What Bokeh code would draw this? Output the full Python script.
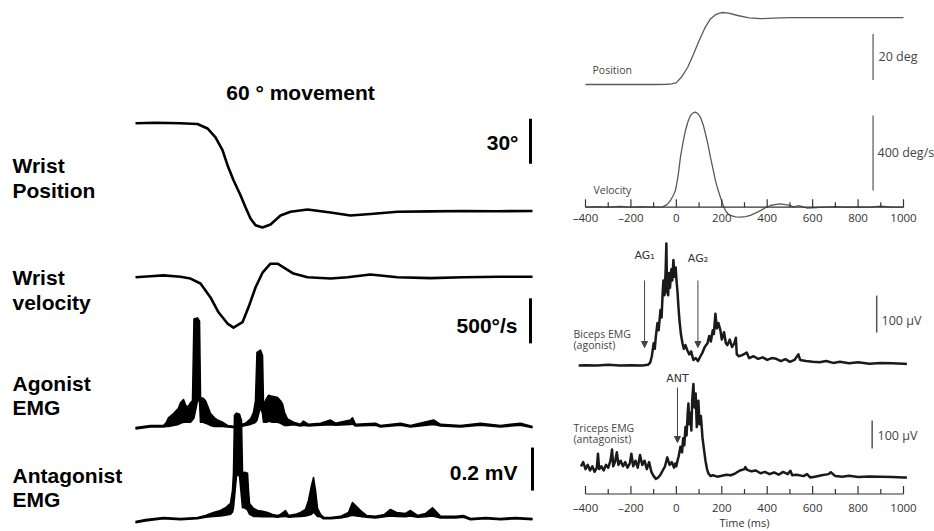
from bokeh.plotting import figure
from bokeh.models import Range1d, Arrow, NormalHead
from bokeh.core.properties import value
from bokeh.embed import file_html
from bokeh.resources import INLINE

# ---------------- data: left panel (60 deg movement) ----------------
# time in ms (arbitrary origin at start of trace)
left_position = [(0, 0), (40, 0.3), (90, 0), (124, -0.5), (144, -3.5), (160, -9.5), (174, -18),
                 (184, -28), (196, -38), (210, -48), (220, -56), (230, -63.5), (240, -68),
                 (254, -69.5), (270, -67.5), (290, -61.5), (310, -59), (344, -57.5), (390, -59.5),
                 (430, -61.5), (470, -60.5), (524, -59), (590, -58.8), (656, -58.5), (720, -58.7),
                 (794, -58.5)]  # degrees
left_velocity = [(0, 0), (30, 10), (56, 20), (90, 5), (110, -15), (130, -70), (150, -225),
                 (166, -390), (184, -515), (196, -560), (214, -500), (226, -335), (240, -115),
                 (254, 50), (270, 150), (284, 150), (296, 110), (316, 40), (344, 0), (390, -15),
                 (424, 0), (470, 30), (524, 0), (590, -10), (656, 0), (730, 5), (794, 5)]  # deg/s
# (t, upper envelope, lower envelope) in mV
left_agonist = [(0, -0.005, -0.011), (30, 0.005, -0.002), (56, 0.005, -0.002), (62, 0.02, 0.0),
                (66, 0.04, 0.0), (76, 0.06, 0.005), (86, 0.085, 0.01), (90, 0.11, 0.015),
                (96, 0.125, 0.02), (100, 0.10, 0.02), (104, 0.09, 0.02), (110, 0.11, 0.02),
                (114, 0.12, 0.03), (117, 0.50, 0.04), (124, 0.505, 0.12), (128, 0.49, 0.12),
                (130, 0.135, 0.02), (136, 0.13, 0.02), (140, 0.12, 0.015), (146, 0.085, 0.01),
                (150, 0.06, 0.005), (158, 0.04, 0.0), (164, 0.03, 0.0), (174, 0.02, 0.0),
                (184, 0.005, -0.002), (200, 0.0, -0.006), (220, 0.015, 0.005), (230, 0.035, 0.01),
                (236, 0.065, 0.015), (240, 0.12, 0.02), (243, 0.345, 0.03), (250, 0.355, 0.09),
                (254, 0.33, 0.06), (256, 0.10, 0.02), (262, 0.13, 0.02), (266, 0.145, 0.025),
                (274, 0.14, 0.02), (284, 0.135, 0.02), (290, 0.12, 0.015), (294, 0.105, 0.01),
                (298, 0.065, 0.005), (304, 0.035, 0.005), (316, 0.02, 0.008), (330, 0.01, 0.002),
                (336, 0.025, 0.006), (346, 0.01, 0.002), (370, 0.015, 0.006), (390, 0.03, 0.008),
                (400, 0.015, 0.006), (430, 0.03, 0.01), (434, 0.04, 0.012), (440, 0.01, 0.002),
                (480, 0.015, 0.006), (490, 0.005, -0.002), (530, 0.015, 0.006), (550, 0.005, -0.002),
                (596, 0.03, 0.01), (610, 0.01, 0.002), (650, 0.005, -0.002), (690, 0.015, 0.006),
                (730, 0.005, -0.002), (770, 0.015, 0.006), (794, 0.0, -0.006)]
left_antagonist = [(0, -0.014, -0.02), (20, -0.005, -0.011), (56, 0.005, -0.001), (90, 0.0, -0.006),
                   (124, 0.005, -0.001), (140, 0.014, 0.006), (156, 0.028, 0.01), (170, 0.037, 0.012),
                   (180, 0.05, 0.015), (190, 0.07, 0.02), (194, 0.13, 0.03), (196, 0.21, 0.05),
                   (198, 0.48, 0.1), (202, 0.49, 0.2), (208, 0.485, 0.2), (212, 0.455, 0.1),
                   (214, 0.21, 0.05), (218, 0.215, 0.05), (224, 0.21, 0.04), (226, 0.13, 0.03),
                   (228, 0.07, 0.02), (236, 0.047, 0.01), (244, 0.037, 0.01), (254, 0.033, 0.008),
                   (264, 0.028, 0.008), (274, 0.019, 0.008), (284, 0.014, 0.006), (290, 0.019, 0.008),
                   (300, 0.037, 0.01), (306, 0.014, 0.006), (320, 0.019, 0.008), (330, 0.028, 0.01),
                   (340, 0.042, 0.012), (346, 0.084, 0.015), (352, 0.153, 0.02), (356, 0.19, 0.03),
                   (360, 0.13, 0.02), (364, 0.047, 0.01), (370, 0.019, 0.008), (376, 0.005, -0.001),
                   (390, 0.005, -0.001), (410, 0.01, 0.003), (426, 0.028, 0.01), (434, 0.074, 0.015),
                   (442, 0.056, 0.012), (450, 0.037, 0.01), (462, 0.014, 0.006), (480, 0.01, 0.003),
                   (498, 0.019, 0.008), (510, 0.042, 0.012), (522, 0.028, 0.01), (540, 0.023, 0.008),
                   (550, 0.037, 0.012), (564, 0.014, 0.006), (580, 0.023, 0.008), (594, 0.05, 0.012),
                   (610, 0.01, 0.003), (640, 0.01, 0.003), (656, 0.014, 0.006), (670, 0.0, -0.006),
                   (700, 0.005, -0.001), (730, 0.0, -0.006), (760, 0.005, -0.001), (794, 0.0, -0.006)]

# ---------------- data: right panel (time in ms re movement onset) ----------------
right_position = [(-400, 0), (-300, 0), (-200, 0), (-100, 0), (-40, 0.1), (-20, 0.3), (0, 0.8),
                  (25, 3.5), (50, 7.5), (75, 13), (100, 19), (125, 24.5), (150, 28.5), (175, 30.5),
                  (200, 31.3), (230, 31.0), (270, 30.0), (320, 29.0), (370, 28.6), (430, 28.9),
                  (500, 29.1), (700, 29.1), (1000, 29.1)]  # deg
right_velocity = [(-400, 0), (-350, 3), (-300, 0), (-250, 4), (-200, 0), (-150, 3), (-100, 0),
                  (-60, 2), (-40, 15), (-26, 36), (-15, 60), (-4, 89), (8, 170), (18, 267), (30, 350),
                  (40, 409), (52, 460), (62, 489), (74, 503), (84, 507), (95, 498), (106, 480),
                  (118, 440), (128, 393), (140, 330), (150, 267), (162, 200), (172, 142), (184, 90),
                  (194, 53), (205, 15), (216, -18), (227, -35), (238, -44), (260, -52), (282, -53),
                  (305, -50), (326, -44), (350, -30), (370, -18), (392, -3), (414, 9), (440, 15),
                  (458, 18), (480, 14), (500, 10), (515, 2), (540, 8), (560, 0), (577, -5), (600, -3),
                  (650, 0), (700, 3), (750, 0), (800, 2), (850, 0), (900, 5), (950, 0), (1000, 0)]  # deg/s
biceps_emg = [(-430, 0), (-400, 1), (-350, 0), (-300, 2), (-250, 0), (-200, 1), (-150, 0), (-125, 2),
              (-115, 8), (-108, 25), (-100, 60), (-95, 45), (-90, 80), (-83, 115), (-78, 95),
              (-70, 150), (-65, 130), (-60, 200), (-57, 230), (-52, 190), (-47, 260), (-44, 330),
              (-41, 200), (-36, 190), (-32, 250), (-28, 210), (-22, 260), (-18, 230), (-13, 285),
              (-8, 240), (-3, 265), (0, 235), (5, 200), (9, 160), (14, 120), (20, 85), (27, 60),
              (33, 45), (40, 55), (49, 40), (57, 30), (65, 38), (75, 15), (85, 20), (95, 12),
              (106, 25), (115, 35), (125, 50), (137, 60), (145, 80), (152, 65), (160, 95), (165, 85),
              (172, 140), (178, 100), (185, 115), (194, 95), (200, 70), (210, 90), (218, 60),
              (225, 55), (235, 70), (245, 50), (255, 60), (262, 75), (266, 30), (275, 25), (290, 28),
              (310, 35), (320, 20), (340, 25), (360, 18), (380, 22), (400, 15), (420, 20), (440, 18),
              (460, 12), (480, 17), (500, 10), (520, 15), (537, 30), (545, 15), (570, 12), (600, 10),
              (630, 9), (660, 12), (690, 7), (720, 10), (760, 6), (800, 9), (850, 5), (900, 7),
              (950, 6), (1000, 5), (1015, 4)]  # uV
triceps_emg = [(-420, 40), (-410, 55), (-400, 30), (-390, 45), (-380, 25), (-370, 40), (-360, 20),
               (-350, 35), (-345, 85), (-340, 30), (-330, 40), (-320, 25), (-310, 45), (-300, 35),
               (-290, 60), (-283, 100), (-278, 40), (-270, 55), (-262, 90), (-255, 45), (-245, 60),
               (-235, 40), (-225, 55), (-215, 35), (-205, 50), (-198, 85), (-190, 40), (-180, 60),
               (-170, 35), (-160, 80), (-150, 45), (-140, 60), (-130, 30), (-120, 55), (-110, 20),
               (-100, 5), (-90, -5), (-80, 0), (-70, 10), (-60, 25), (-50, 40), (-40, 72), (-30, 45),
               (-20, 55), (-10, 35), (-5, 50), (0, 40), (5, 60), (10, 75), (18, 110), (25, 90),
               (30, 140), (35, 115), (40, 180), (45, 150), (50, 230), (53, 264), (57, 190), (62, 230),
               (66, 168), (70, 280), (75, 334), (80, 250), (85, 300), (90, 180), (93, 210), (97, 274),
               (102, 190), (108, 220), (115, 143), (120, 110), (128, 61), (135, 30), (141, 15),
               (150, 5), (160, 8), (180, 3), (200, 6), (220, 10), (240, 8), (260, 15), (280, 25),
               (300, 30), (304, 37), (310, 28), (330, 22), (350, 25), (370, 15), (390, 20), (410, 12),
               (430, 18), (450, 10), (470, 20), (490, 12), (502, 24), (510, 8), (530, 10), (560, 5),
               (575, 12), (590, 0), (610, 3), (640, 8), (670, 12), (680, 19), (700, 5), (730, 3),
               (760, 6), (800, 2), (850, 4), (900, 3), (950, 2), (1000, 0), (1015, 0)]  # uV

time_ticks = [-400, -300, -200, -100, 0, 100, 200, 300, 400, 500, 600, 700, 800, 900, 1000]
time_labels = ["\u2013400", "\u2013200", "0", "200", "400", "600", "800", "1000"]
label_ticks = [-400, -200, 0, 200, 400, 600, 800, 1000]
marker_times = {"AG\u2081": -140, "AG\u2082": 95, "ANT": 5}

# ---------------- layout helpers (positions in pixels of the picture) ----------------
W, H = 934, 531
X0, X1, Y0, Y1 = 0, W, 0, H


def xr(v0, px0, v1, px1):
    k = (v1 - v0) / (px1 - px0)
    return Range1d(v0 + (X0 - px0) * k, v0 + (X1 - px0) * k)


def yr(v0, py0, v1, py1):
    k = (v1 - v0) / (py1 - py0)
    return Range1d(v0 + (Y1 - py0) * k, v0 + (Y0 - py0) * k)


def col(rows, i):
    return [r[i] for r in rows]


p = figure(width=W, height=H, x_range=Range1d(X0, X1), y_range=Range1d(Y1, Y0),
           output_backend="svg", toolbar_location=None, x_axis_type=None, y_axis_type=None,
           min_border=0, min_border_left=0, min_border_right=0, min_border_top=0,
           min_border_bottom=0)
p.outline_line_color = None
p.grid.visible = False
p.background_fill_color = "white"

p.extra_x_ranges = {"L": xr(0, 135, 800, 535), "R": xr(-400, 585, 1000, 903)}
p.extra_y_ranges = {
    "lpos": yr(0, 122.7, -30, 167.7),
    "lvel": yr(0, 276.7, -500, 321.7),
    "lag": yr(0, 426, 0.2, 383),
    "lant": yr(0, 518, 0.2, 475),
    "rpos": yr(0, 84, 20, 38),
    "rvel": yr(0, 206.7, 400, 131.7),
    "rbic": yr(0, 365, 100, 328),
    "rtri": yr(0, 477, 100, 449),
}

BLACK = "#000000"
BOLD = value("Liberation Sans")
LIGHT = value("Open Sans")
GREY = "#444444"

# ---------- left traces ----------
p.line(col(left_position, 0), col(left_position, 1), x_range_name="L", y_range_name="lpos",
       line_color=BLACK, line_width=2.6, line_join="round")
p.line(col(left_velocity, 0), col(left_velocity, 1), x_range_name="L", y_range_name="lvel",
       line_color=BLACK, line_width=2.6, line_join="round")
for rows, rn in ((left_agonist, "lag"), (left_antagonist, "lant")):
    t, hi, lo = col(rows, 0), col(rows, 1), col(rows, 2)
    p.varea(x=t, y1=lo, y2=hi, x_range_name="L", y_range_name=rn, fill_color=BLACK)
    p.line(t, hi, x_range_name="L", y_range_name=rn, line_color=BLACK, line_width=1.6,
           line_join="round")
    p.line(t, lo, x_range_name="L", y_range_name=rn, line_color=BLACK, line_width=1.6,
           line_join="round")

# left scale bars
p.segment(x0=[790], y0=[3], x1=[790], y1=[3 - 30], x_range_name="L", y_range_name="lpos",
          line_color=BLACK, line_width=3)
p.segment(x0=[790], y0=[-235], x1=[790], y1=[-235 - 500], x_range_name="L", y_range_name="lvel",
          line_color=BLACK, line_width=3)
p.segment(x0=[794], y0=[0.33], x1=[794], y1=[0.33 - 0.2], x_range_name="L", y_range_name="lant",
          line_color=BLACK, line_width=3)

# left texts
p.text(x=[300], y=[92], text=["60 \u00b0 movement"], text_font=BOLD, text_font_style="bold",
       text_font_size="21px", text_align="center", text_baseline="middle", text_color=BLACK)
row_labels = ["Wrist", "Position", "Wrist", "velocity", "Agonist", "EMG", "Antagonist", "EMG"]
row_y = [165, 190, 277, 302, 383, 407, 475, 499]
p.text(x=[12] * len(row_labels), y=row_y, text=row_labels, text_font=BOLD, text_font_style="bold",
       text_font_size="21px", text_align="left", text_baseline="middle", text_color=BLACK)
p.text(x=[518, 517, 517], y=[142, 325, 472], text=["30\u00b0", "500\u00b0/s", "0.2 mV"],
       text_font=BOLD, text_font_style="bold", text_font_size="21px", text_align="right",
       text_baseline="middle", text_color=BLACK)

# ---------- right traces ----------
p.line(col(right_position, 0), col(right_position, 1), x_range_name="R", y_range_name="rpos",
       line_color="#5a5a5a", line_width=1.3, line_join="round")
p.line(col(right_velocity, 0), col(right_velocity, 1), x_range_name="R", y_range_name="rvel",
       line_color="#5a5a5a", line_width=1.3, line_join="round")
p.line(col(biceps_emg, 0), col(biceps_emg, 1), x_range_name="R", y_range_name="rbic",
       line_color="#1a1a1a", line_width=2.5, line_join="round")
p.line(col(triceps_emg, 0), col(triceps_emg, 1), x_range_name="R", y_range_name="rtri",
       line_color="#1a1a1a", line_width=2.5, line_join="round")

# right scale bars
p.segment(x0=[866], y0=[2], x1=[866], y1=[22], x_range_name="R", y_range_name="rpos",
          line_color="#777777", line_width=1.5)
p.segment(x0=[866], y0=[89], x1=[866], y1=[489], x_range_name="R", y_range_name="rvel",
          line_color="#777777", line_width=1.5)
p.segment(x0=[882], y0=[89], x1=[882], y1=[189], x_range_name="R", y_range_name="rbic",
          line_color="#555555", line_width=1.5)
p.segment(x0=[862], y0=[104], x1=[862], y1=[204], x_range_name="R", y_range_name="rtri",
          line_color="#555555", line_width=1.5)

# right time axes (drawn from the tick list)
for axis_y, lab_y in ((206.7, 217), (493.5, 507)):
    p.segment(x0=[time_ticks[0]], y0=[axis_y], x1=[time_ticks[-1]], y1=[axis_y],
              x_range_name="R", line_color="#333333", line_width=1.2)
    tick_len = [8 if t in label_ticks else 5 for t in time_ticks]
    p.segment(x0=time_ticks, y0=[axis_y] * len(time_ticks), x1=time_ticks,
              y1=[axis_y - L for L in tick_len], x_range_name="R", line_color="#333333",
              line_width=1.2)
    p.text(x=label_ticks, y=[lab_y] * len(label_ticks), text=time_labels, x_range_name="R",
           text_font=LIGHT, text_font_size="11.5px", text_align="center", text_baseline="middle",
           text_color="#333333")
p.text(x=[300], y=[522], text=["Time (ms)"], x_range_name="R", text_font=LIGHT,
       text_font_size="11px", text_align="center", text_baseline="middle", text_color="#333333")

# right labels
p.text(x=[592, 593, 573, 573, 573, 573], y=[69, 189, 333, 344, 427, 438],
       text=["Position", "Velocity", "Biceps EMG", "(agonist)", "Triceps EMG", "(antagonist)"],
       text_font=LIGHT, text_font_size="10.5px", text_align="left", text_baseline="middle",
       text_color=GREY)
p.text(x=[878, 877, 881, 877], y=[56, 152, 320, 435],
       text=["20 deg", "400 deg/s", "100 \u00b5V", "100 \u00b5V"],
       text_font=LIGHT, text_font_size="12.5px", text_align="left", text_baseline="middle",
       text_color=GREY)

# event markers (AG1, AG2, ANT)
arrow_y = {"AG\u2081": (280, 347, 255), "AG\u2082": (280, 347, 258), "ANT": (387, 442, 378)}
for name, t in marker_times.items():
    ys, ye, ly = arrow_y[name]
    p.add_layout(Arrow(end=NormalHead(size=6, fill_color="#444444", line_color="#444444"),
                       x_start=t, y_start=ys, x_end=t, y_end=ye, x_range_name="R",
                       line_color="#444444", line_width=1))
    p.text(x=[t], y=[ly], text=[name], x_range_name="R", text_font=value("DejaVu Sans"),
           text_font_size="11px", text_align="center", text_baseline="middle", text_color="#333333")

open("out.html", "w").write(file_html(p, INLINE))
